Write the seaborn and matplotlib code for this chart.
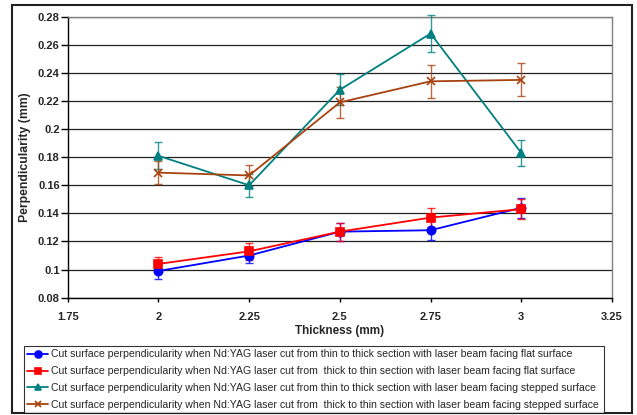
import pandas as pd
import numpy as np
import matplotlib
matplotlib.use('Agg')
import matplotlib.pyplot as plt
import seaborn as sns
from matplotlib.patches import Rectangle

# Data
thickness = [2, 2.25, 2.5, 2.75, 3]

labels = [
    'Cut surface perpendicularity when Nd:YAG laser cut from thin to thick section with laser beam facing flat surface',
    'Cut surface perpendicularity when Nd:YAG laser cut from  thick to thin section with laser beam facing flat surface',
    'Cut surface perpendicularity when Nd:YAG laser cut from thin to thick section with laser beam facing stepped surface',
    'Cut surface perpendicularity when Nd:YAG laser cut from  thick to thin section with laser beam facing stepped surface',
]

thin_thick_flat = [0.099, 0.110, 0.127, 0.128, 0.144]
thick_thin_flat = [0.104, 0.113, 0.127, 0.137, 0.143]
thin_thick_stepped = [0.181, 0.160, 0.228, 0.268, 0.183]
thick_thin_stepped = [0.169, 0.167, 0.219, 0.234, 0.235]

err_thin_thick_flat = [0.0055, 0.005, 0.0065, 0.007, 0.007]
err_thick_thin_flat = [0.005, 0.006, 0.0065, 0.0065, 0.007]
err_thin_thick_stepped = [0.0095, 0.008, 0.011, 0.013, 0.009]
err_thick_thin_stepped = [0.008, 0.0076, 0.011, 0.0118, 0.0118]

colors = ['#0000FF', '#FF0000', '#008080', '#A8420F']
markers = ['o', 's', '^', 'x']

values = [thin_thick_flat, thick_thin_flat, thin_thick_stepped, thick_thin_stepped]
errors = [err_thin_thick_flat, err_thick_thin_flat, err_thin_thick_stepped, err_thick_thin_stepped]

# Long format frame for seaborn
rows = []
for lab, vals, errs in zip(labels, values, errors):
    for t, v, e in zip(thickness, vals, errs):
        rows.append({'thickness': t, 'perp': v, 'err': e, 'series': lab})
df = pd.DataFrame(rows)

sns.set_theme(style='white')
plt.rcParams['font.family'] = ['Liberation Sans', 'DejaVu Sans']

fig = plt.figure(figsize=(6.37, 4.15), dpi=100)
ax = fig.add_axes([0.1063, 0.2827, 0.8545, 0.6771])

for lab, col, mk in zip(labels, colors, markers):
    sub = df[df['series'] == lab]
    # error bars under the line, allowed to poke above the axes top
    eb = ax.errorbar(sub['thickness'], sub['perp'], yerr=sub['err'], fmt='none',
                     ecolor=col, elinewidth=1, capsize=3, capthick=1, alpha=0.8, zorder=3)
    for art in eb.lines[1] + eb.lines[2]:
        art.set_clip_on(False)
    sns.lineplot(data=sub, x='thickness', y='perp', color=col, marker=mk,
                 linewidth=1.3, markersize=6, markeredgewidth=1.2,
                 markeredgecolor=col, ax=ax, zorder=4)

ax.set_xlim(1.75, 3.25)
ax.set_ylim(0.08, 0.28)
ax.set_xticks([1.75, 2, 2.25, 2.5, 2.75, 3, 3.25])
ax.set_xticklabels(['1.75', '2', '2.25', '2.5', '2.75', '3', '3.25'])
ax.set_yticks(np.arange(0.08, 0.2801, 0.02))
ax.set_yticklabels(['0.08', '0.1', '0.12', '0.14', '0.16', '0.18', '0.2',
                    '0.22', '0.24', '0.26', '0.28'])

ax.yaxis.grid(True, color='#222222', linewidth=0.9)
ax.xaxis.grid(False)
ax.set_axisbelow(True)

for side in ['left', 'bottom']:
    ax.spines[side].set_color('black')
    ax.spines[side].set_linewidth(1)
for side in ['top', 'right']:
    ax.spines[side].set_color('#808080')
    ax.spines[side].set_linewidth(1)

ax.tick_params(axis='both', which='major', direction='out', width=1,
               color='black', labelsize=8, left=True, bottom=True)
ax.tick_params(axis='y', length=5, pad=0.8)
ax.tick_params(axis='x', length=3, pad=7)
for lbl in ax.get_xticklabels() + ax.get_yticklabels():
    lbl.set_fontweight('bold')

ax.set_xlabel('Thickness (mm)', fontsize=8.4, fontweight='bold', labelpad=2.5)
ax.set_ylabel('Perpendicularity (mm)', fontsize=8.8, fontweight='bold', labelpad=5)

# legend below the plot
handles = [plt.Line2D([], [], color=c, marker=m, linewidth=1.3, markersize=5,
                      markeredgewidth=1.2) for c, m in zip(colors, markers)]
leg = fig.legend(handles, labels, loc='lower left',
                 bbox_to_anchor=(0.0377, 0.005, 0.911, 0.169), mode='expand',
                 fontsize=7.6, frameon=True, fancybox=False, borderpad=0.3,
                 labelspacing=0.64, handlelength=2.0, handletextpad=0.25,
                 borderaxespad=0)
leg.get_frame().set_edgecolor('black')
leg.get_frame().set_linewidth(0.8)

# outer chart frame
fig.patches.append(Rectangle((0.0193, 0.005), 0.9724, 0.982, transform=fig.transFigure,
                             fill=False, edgecolor='#222222', linewidth=1.5))

plt.savefig('out.png', dpi=100)
